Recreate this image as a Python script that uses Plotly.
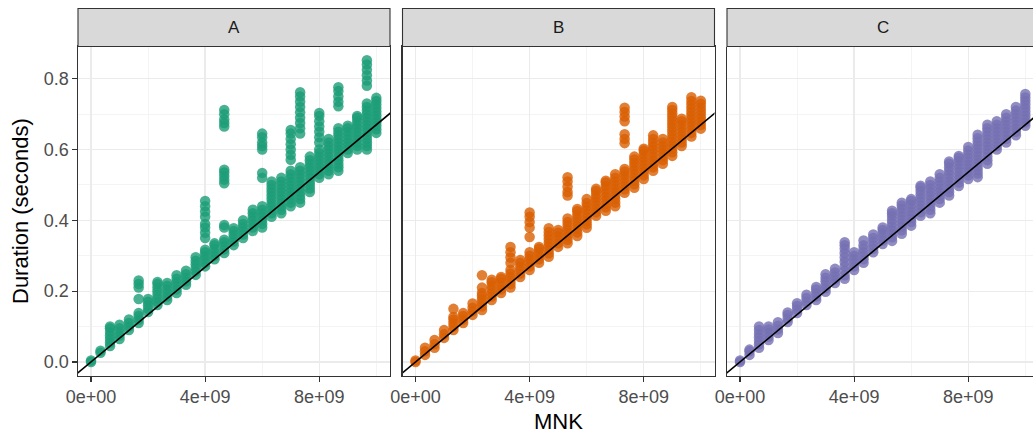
import plotly.graph_objects as go

# ---------------- data ----------------
panels = ["A", "B", "C"]
colors = ["#1B9E77", "#D95F02", "#7570B3"]

mnk = [0.0, 3.33e8, 6.67e8, 1.0e9, 1.33e9, 1.67e9, 2.0e9, 2.33e9, 2.67e9, 3.0e9,
       3.33e9, 3.67e9, 4.0e9, 4.33e9, 4.67e9, 5.0e9, 5.33e9, 5.67e9, 6.0e9, 6.33e9,
       6.67e9, 7.0e9, 7.33e9, 7.67e9, 8.0e9, 8.33e9, 8.67e9, 9.0e9, 9.33e9, 9.67e9, 1.0e10]

A_dur = [
    [0.0, 0.004],
    [0.026, 0.032],
    [0.045, 0.055, 0.065, 0.075, 0.085, 0.095, 0.10],
    [0.065, 0.075, 0.085, 0.095, 0.105],
    [0.09, 0.10, 0.11, 0.12],
    [0.11, 0.12, 0.13, 0.138, 0.178, 0.21, 0.22, 0.23],
    [0.141, 0.15, 0.16, 0.17, 0.178],
    [0.161, 0.17, 0.18, 0.19, 0.20, 0.21, 0.22, 0.226],
    [0.175, 0.185, 0.195, 0.205, 0.215, 0.223],
    [0.195, 0.205, 0.215, 0.225, 0.235, 0.245],
    [0.218, 0.228, 0.238, 0.248, 0.258],
    [0.246, 0.256, 0.266, 0.276, 0.286, 0.296],
    [0.27, 0.28, 0.29, 0.30, 0.31, 0.317, 0.35, 0.365, 0.38, 0.39, 0.41, 0.425, 0.44, 0.455],
    [0.29, 0.30, 0.31, 0.32, 0.33, 0.335],
    [0.308, 0.318, 0.328, 0.338, 0.345, 0.38, 0.387, 0.505, 0.515, 0.525, 0.535, 0.543,
     0.665, 0.675, 0.685, 0.70, 0.712],
    [0.33, 0.34, 0.35, 0.36, 0.37, 0.378],
    [0.35, 0.36, 0.37, 0.38, 0.39, 0.40],
    [0.37, 0.38, 0.39, 0.40, 0.41, 0.42, 0.43],
    [0.38, 0.39, 0.40, 0.41, 0.42, 0.43, 0.44, 0.52, 0.534, 0.60, 0.61, 0.62, 0.635, 0.645],
    [0.41, 0.42, 0.43, 0.44, 0.45, 0.46, 0.47, 0.48, 0.49, 0.50, 0.51],
    [0.42, 0.43, 0.44, 0.45, 0.46, 0.47, 0.48, 0.49, 0.50, 0.51, 0.52],
    [0.44, 0.45, 0.46, 0.47, 0.48, 0.49, 0.50, 0.51, 0.52, 0.53, 0.54,
     0.571, 0.585, 0.60, 0.615, 0.63, 0.645, 0.655],
    [0.45, 0.46, 0.47, 0.48, 0.49, 0.50, 0.51, 0.52, 0.53, 0.54, 0.55,
     0.645, 0.66, 0.675, 0.69, 0.705, 0.72, 0.735, 0.75, 0.762],
    [0.48, 0.49, 0.50, 0.51, 0.52, 0.53, 0.54, 0.55, 0.56, 0.57, 0.58],
    [0.52, 0.53, 0.54, 0.55, 0.56, 0.57, 0.58, 0.59, 0.60,
     0.62, 0.635, 0.65, 0.665, 0.68, 0.695, 0.703],
    [0.53, 0.54, 0.55, 0.56, 0.57, 0.58, 0.59, 0.60, 0.61, 0.62, 0.63],
    [0.54, 0.55, 0.56, 0.57, 0.58, 0.59, 0.60, 0.61, 0.62, 0.63, 0.64, 0.65, 0.66,
     0.722, 0.735, 0.75, 0.765, 0.776],
    [0.59, 0.60, 0.61, 0.62, 0.63, 0.64, 0.65, 0.66, 0.667],
    [0.60, 0.61, 0.62, 0.63, 0.64, 0.65, 0.66, 0.67, 0.68, 0.69, 0.695],
    [0.60, 0.61, 0.62, 0.63, 0.64, 0.65, 0.66, 0.67, 0.68, 0.69, 0.70, 0.71, 0.72, 0.73,
     0.78, 0.795, 0.81, 0.825, 0.84, 0.852],
    [0.647, 0.657, 0.667, 0.677, 0.687, 0.697, 0.707, 0.717, 0.727, 0.737, 0.746],
]

B_dur = [
    [0.0, 0.004],
    [0.02, 0.03, 0.04],
    [0.04, 0.05, 0.062],
    [0.068, 0.078, 0.09],
    [0.09, 0.10, 0.11, 0.12, 0.127, 0.15],
    [0.11, 0.12, 0.13, 0.138],
    [0.133, 0.143, 0.153, 0.165],
    [0.147, 0.157, 0.167, 0.177, 0.187, 0.195, 0.21, 0.245],
    [0.175, 0.185, 0.195, 0.205, 0.215, 0.225, 0.232],
    [0.195, 0.205, 0.215, 0.225, 0.235, 0.24],
    [0.21, 0.22, 0.23, 0.24, 0.25, 0.26, 0.28, 0.295, 0.31, 0.325],
    [0.24, 0.25, 0.26, 0.27, 0.28, 0.288],
    [0.26, 0.27, 0.28, 0.29, 0.30, 0.31, 0.353, 0.38, 0.395, 0.41, 0.422],
    [0.28, 0.29, 0.30, 0.31, 0.32, 0.325],
    [0.297, 0.307, 0.317, 0.327, 0.337, 0.347, 0.357, 0.367, 0.378],
    [0.325, 0.335, 0.345, 0.355, 0.365, 0.373],
    [0.335, 0.345, 0.355, 0.365, 0.375, 0.385, 0.395, 0.405, 0.47, 0.48, 0.495, 0.51, 0.522],
    [0.356, 0.366, 0.376, 0.386, 0.396, 0.406, 0.416, 0.426, 0.432],
    [0.379, 0.389, 0.399, 0.409, 0.419, 0.429, 0.439, 0.449, 0.46],
    [0.413, 0.423, 0.433, 0.443, 0.453, 0.463, 0.473, 0.483, 0.489],
    [0.427, 0.437, 0.447, 0.457, 0.467, 0.477, 0.487, 0.497, 0.507, 0.512],
    [0.44, 0.45, 0.46, 0.47, 0.48, 0.49, 0.50, 0.51, 0.52, 0.53],
    [0.478, 0.488, 0.498, 0.508, 0.518, 0.528, 0.538, 0.545,
     0.618, 0.63, 0.643, 0.68, 0.693, 0.706, 0.718],
    [0.492, 0.502, 0.512, 0.522, 0.532, 0.542, 0.552, 0.562, 0.572, 0.58],
    [0.517, 0.527, 0.537, 0.547, 0.557, 0.567, 0.577, 0.587, 0.597, 0.602],
    [0.54, 0.55, 0.56, 0.57, 0.58, 0.59, 0.60, 0.61, 0.62, 0.63, 0.64],
    [0.56, 0.57, 0.58, 0.59, 0.60, 0.61, 0.62, 0.63],
    [0.582, 0.592, 0.602, 0.612, 0.622, 0.632, 0.642, 0.652, 0.662, 0.672, 0.682,
     0.692, 0.702, 0.712, 0.72],
    [0.61, 0.62, 0.63, 0.64, 0.65, 0.66, 0.67, 0.68, 0.687],
    [0.637, 0.647, 0.657, 0.667, 0.677, 0.687, 0.697, 0.707, 0.717, 0.727, 0.737, 0.748],
    [0.659, 0.669, 0.679, 0.689, 0.699, 0.709, 0.719, 0.729, 0.738],
]

C_dur = [
    [0.0, 0.004],
    [0.02, 0.03, 0.035],
    [0.04, 0.05, 0.06, 0.07, 0.08, 0.09, 0.10],
    [0.062, 0.072, 0.082, 0.092, 0.10],
    [0.082, 0.092, 0.102, 0.112],
    [0.113, 0.123, 0.133, 0.14],
    [0.138, 0.148, 0.158, 0.166],
    [0.161, 0.171, 0.181, 0.19],
    [0.175, 0.185, 0.195, 0.205, 0.212],
    [0.198, 0.208, 0.218, 0.228, 0.238, 0.248],
    [0.223, 0.233, 0.243, 0.253, 0.263],
    [0.235, 0.245, 0.258, 0.27, 0.283, 0.295, 0.308, 0.32, 0.33, 0.338],
    [0.26, 0.27, 0.28, 0.29, 0.30, 0.31],
    [0.28, 0.29, 0.30, 0.31, 0.32, 0.33, 0.343],
    [0.31, 0.32, 0.33, 0.34, 0.35, 0.36],
    [0.333, 0.343, 0.353, 0.363, 0.373, 0.38],
    [0.342, 0.352, 0.362, 0.372, 0.382, 0.392, 0.402, 0.412, 0.42, 0.427],
    [0.362, 0.372, 0.382, 0.392, 0.402, 0.412, 0.422, 0.432, 0.442, 0.45],
    [0.385, 0.395, 0.405, 0.415, 0.425, 0.435, 0.445, 0.455, 0.46],
    [0.413, 0.423, 0.433, 0.443, 0.453, 0.463, 0.473, 0.483, 0.493, 0.498],
    [0.42, 0.43, 0.44, 0.45, 0.46, 0.47, 0.48, 0.49, 0.50, 0.51],
    [0.45, 0.46, 0.47, 0.48, 0.49, 0.50, 0.51, 0.52, 0.53],
    [0.47, 0.48, 0.49, 0.50, 0.51, 0.52, 0.53, 0.54, 0.55, 0.56, 0.566],
    [0.497, 0.507, 0.517, 0.527, 0.537, 0.547, 0.557, 0.567, 0.577, 0.582],
    [0.517, 0.527, 0.537, 0.547, 0.557, 0.567, 0.577, 0.587, 0.597, 0.607],
    [0.522, 0.532, 0.542, 0.552, 0.562, 0.572, 0.582, 0.592, 0.602, 0.612, 0.622,
     0.632, 0.642],
    [0.56, 0.57, 0.58, 0.59, 0.60, 0.61, 0.62, 0.63, 0.64, 0.65, 0.66, 0.67],
    [0.60, 0.61, 0.62, 0.63, 0.64, 0.65, 0.66, 0.67, 0.68],
    [0.62, 0.63, 0.64, 0.65, 0.66, 0.67, 0.68, 0.69, 0.70],
    [0.64, 0.65, 0.66, 0.67, 0.68, 0.69, 0.70, 0.71, 0.72],
    [0.667, 0.677, 0.687, 0.697, 0.707, 0.717, 0.727, 0.737, 0.747, 0.757],
]

fit_slope = 6.7e-11   # seconds per MNK (reference line through origin)
fit_intercept = 0.0

x_tickvals = [0.0, 4e9, 8e9]
x_ticktext = ["0e+00", "4e+09", "8e+09"]
x_minor = [2e9, 6e9, 1e10]
y_tickvals = [0.0, 0.2, 0.4, 0.6, 0.8]
y_ticktext = ["0.0", "0.2", "0.4", "0.6", "0.8"]
y_minor = [0.1, 0.3, 0.5, 0.7]

x_title = "MNK"
y_title = "Duration (seconds)"

# ---------------- layout geometry ----------------
W, H = 1033, 434
FONT = "Liberation Sans, Arial, sans-serif"
panel_px = [(78, 390), (402.5, 714.5), (727, 1033)]
top_px, bot_px = 46.5, 376
strip_top_px = 8.5
x_lo = -0.456e9
x_span_per_px = (10.48e9 - x_lo) / (390 - 78)
y_range = [-0.0396, 0.891]

def fx(p):
    return p / W

def fy(p):
    return 1 - p / H

fig = go.Figure()
durs = [A_dur, B_dur, C_dur]
shapes = []
annotations = []

for i, (name, col, dur) in enumerate(zip(panels, colors, durs)):
    xs, ys = [], []
    for xv, col_vals in zip(mnk, dur):
        for v in col_vals:
            xs.append(xv)
            ys.append(v)
    suffix = "" if i == 0 else str(i + 1)
    xa, ya = "x" + suffix, "y" + suffix
    fig.add_trace(go.Scatter(
        x=xs, y=ys, mode="markers", xaxis=xa, yaxis=ya,
        marker=dict(color=col, size=10.5, opacity=0.8, line=dict(width=0)),
        showlegend=False, hoverinfo="skip"))
    x0p, x1p = panel_px[i]
    xr = [x_lo, x_lo + (x1p - x0p) * x_span_per_px]
    lx = [xr[0] - 1e9, xr[1] + 1e9]
    fig.add_trace(go.Scatter(
        x=lx, y=[fit_intercept + fit_slope * v for v in lx], mode="lines",
        xaxis=xa, yaxis=ya, line=dict(color="black", width=1.6),
        showlegend=False, hoverinfo="skip"))

    last = (i == 2)
    xkey = "xaxis" + suffix
    ykey = "yaxis" + suffix
    fig.layout[xkey] = dict(
        domain=[fx(x0p), fx(x1p)], range=xr, anchor=ya, automargin=False,
        tickvals=x_tickvals, ticktext=x_ticktext,
        ticks="outside", ticklen=4.5, tickwidth=1.1, tickcolor="#333333",
        tickfont=dict(family=FONT, size=18, color="#4D4D4D"),
        showgrid=True, gridcolor="#EBEBEB", gridwidth=1.3,
        minor=dict(tickvals=x_minor, showgrid=True, gridcolor="#EFEFEF",
                   gridwidth=0.7, ticks=""),
        showline=True, linecolor="#333333", linewidth=1.1, mirror=not last,
        zeroline=False, fixedrange=True)
    fig.layout[ykey] = dict(
        domain=[fy(bot_px), fy(top_px)], range=y_range, anchor=xa, automargin=False,
        tickvals=y_tickvals, ticktext=y_ticktext,
        showticklabels=(i == 0), ticks="outside" if i == 0 else "",
        ticklen=4.5, tickwidth=1.1, tickcolor="#333333",
        tickfont=dict(family=FONT, size=18, color="#4D4D4D"),
        showgrid=True, gridcolor="#EBEBEB", gridwidth=1.3,
        minor=dict(tickvals=y_minor, showgrid=True, gridcolor="#EFEFEF",
                   gridwidth=0.7, ticks=""),
        showline=True, linecolor="#333333", linewidth=1.1, mirror=not last,
        zeroline=False, fixedrange=True)

    # facet strip
    sx1 = fx(x1p) if not last else 1.02
    shapes.append(dict(type="rect", xref="paper", yref="paper",
                       x0=fx(x0p), x1=sx1, y0=fy(top_px), y1=fy(strip_top_px),
                       fillcolor="#D9D9D9", line=dict(color="#333333", width=1.1),
                       layer="above"))
    annotations.append(dict(text=name, xref="paper", yref="paper",
                            x=(fx(x0p) + fx(x1p + (6 if last else 0))) / 2,
                            y=fy((top_px + strip_top_px) / 2),
                            showarrow=False, xanchor="center", yanchor="middle",
                            font=dict(family=FONT, size=17, color="#1A1A1A")))

annotations.append(dict(text=x_title, xref="paper", yref="paper",
                        x=fx(558), y=fy(421), showarrow=False,
                        xanchor="center", yanchor="middle",
                        font=dict(family=FONT, size=22, color="black")))
annotations.append(dict(text=y_title, xref="paper", yref="paper",
                        x=fx(21), y=fy(211), showarrow=False, textangle=-90,
                        xanchor="center", yanchor="middle",
                        font=dict(family=FONT, size=22, color="black")))

fig.update_layout(
    width=W, height=H, margin=dict(l=0, r=0, t=0, b=0, autoexpand=False),
    paper_bgcolor="white", plot_bgcolor="white",
    shapes=shapes, annotations=annotations, showlegend=False,
    font=dict(family=FONT))

fig.write_html("out.html", config={"displayModeBar": False, "staticPlot": True},
               post_script="document.body.style.margin='0';document.body.style.overflow='hidden';")
